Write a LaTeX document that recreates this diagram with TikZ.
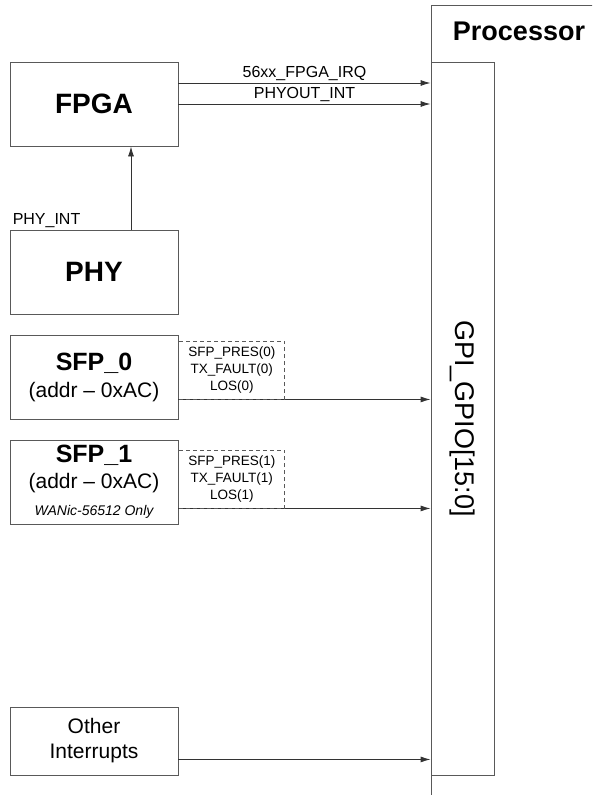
\documentclass[tikz,border=0pt]{standalone}
\usepackage{fontspec}
\setmainfont{Liberation Sans}
\usetikzlibrary{positioning, arrows.meta, calc}
\newcommand{\fsz}[2]{\fontsize{#1}{#2}\selectfont}
\tikzset{
  arr/.style={-{Latex[length=10pt,width=6pt]}, line width=0.9pt, draw=black!80},
  blk/.style={draw=black!65, line width=0.9pt, minimum width=168pt, minimum height=84pt, align=center, inner sep=0pt},
  sig/.style={draw=black!65, line width=0.8pt, dash pattern=on 4pt off 3pt, minimum width=106pt, minimum height=58pt, align=center, inner sep=0pt, font=\fsz{13.5}{17}},
  lab/.style={font=\fsz{16}{19}, inner sep=1.5pt}
}

\begin{document}
\begin{tikzpicture}[x=1pt, y=-1pt]
\clip (0,0) rectangle (592,795);
\fill[white] (0,0) rectangle (592,795);

% processor side
\node[draw=black!65, line width=0.9pt, minimum width=240pt, minimum height=840pt, anchor=north west, inner sep=0pt] (proc) at (431,5) {};
\node[font=\fsz{27}{32}\bfseries] (proctitle) at (519,31) {Processor};
\node[draw=black!65, line width=0.9pt, minimum width=63pt, minimum height=713pt, inner sep=0pt] (gpio) at (462.5,418.5) {};
\node[rotate=-90, font=\fsz{27}{32}] (gpiotxt) at (gpio.center) {GPI\_GPIO[15:0]};

% sources
\node[blk, font=\fsz{28}{32}\bfseries] (fpga) at (94,104) {FPGA};
\node[blk, font=\fsz{28}{32}\bfseries] (phy) at (94,272) {PHY};
\node[blk, font=\fsz{21}{27}] (sfp0) at (94,377)
  {{\fsz{25}{27}\bfseries SFP\_0}\\(addr – 0xAC)};
\node[blk, font=\fsz{21}{26}] (sfp1) at (94,482)
  {{\fsz{25}{26}\bfseries SFP\_1}\\(addr – 0xAC)\\[1pt]{\fsz{14}{17}\itshape WANic-56512 Only}};
\node[blk, minimum height=68pt, font=\fsz{21}{25}] (other) at (94,741) {Other\\Interrupts};

% interrupt lines
\draw[arr] ($(fpga.east)+(0,-21)$) coordinate (irq) -- (irq -| gpio.west)
  node[lab, midway, above] (irqlab) {56xx\_FPGA\_IRQ};
\draw[arr] (fpga.east) -- (fpga.east -| gpio.west)
  node[lab, midway, above] (phyoutlab) {PHYOUT\_INT};
\draw[arr] ($(phy.north)+(37,0)$) coordinate (phyup) -- (phyup |- fpga.south);
\node[lab, anchor=south west] (phyint) at ($(phy.north west)+(1.5,0)$) {PHY\_INT};

\draw[arr] ($(sfp0.south east)+(0,-20)$) coordinate (s0) -- (s0 -| gpio.west);
\node[sig, anchor=south west] (sig0) at (s0) {SFP\_PRES(0)\\TX\_FAULT(0)\\LOS(0)};
\draw[arr] ($(sfp1.south east)+(0,-16)$) coordinate (s1) -- (s1 -| gpio.west);
\node[sig, anchor=south west] (sig1) at (s1) {SFP\_PRES(1)\\TX\_FAULT(1)\\LOS(1)};
\draw[arr] ($(other.south east)+(0,-16)$) coordinate (oi) -- (oi -| gpio.west);
\end{tikzpicture}
\end{document}
